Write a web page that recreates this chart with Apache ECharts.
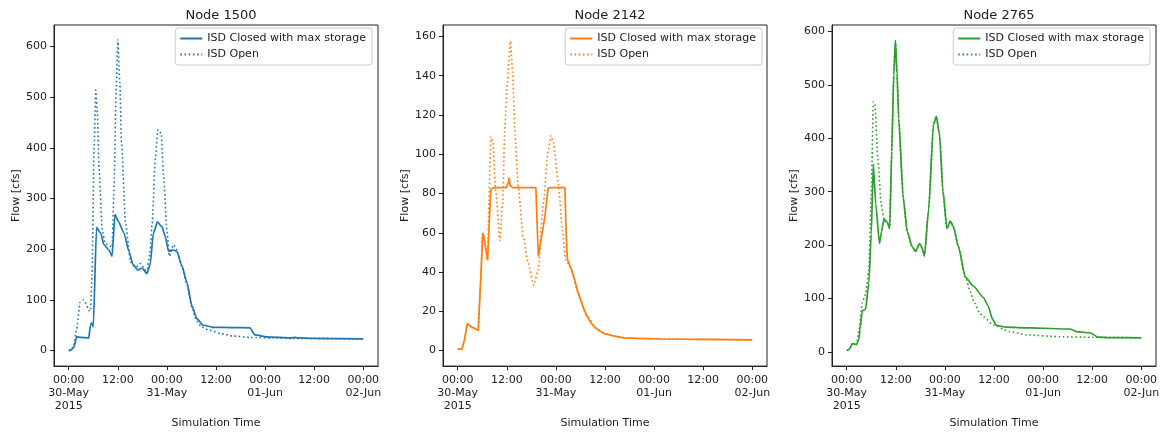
<!DOCTYPE html>
<html>
<head>
<meta charset="utf-8">
<script src="https://cdn.jsdelivr.net/npm/echarts@6.0.0/dist/echarts.min.js"></script>
<style>
  html, body { margin: 0; padding: 0; background: #fff; }
  #chart { width: 1164px; height: 434px; }
</style>
</head>
<body>
<div id="chart"></div>
<script>
// time in hours since 30-May-2015 00:00, flow in cfs
var closed1500 = [[0,0],[0.5,1],[1.2,6],[1.95,27],[3,26],[4.9,25],[5.3,50],[5.6,55],[6.0,47],[6.8,243],[7.8,232],[8.6,209],[9.8,199],[10.6,186],[11.3,269],[12.2,254],[13.5,232],[14.7,196],[15.7,170],[16.9,159],[17.9,163],[19.1,152],[19.9,170],[20.7,232],[21.7,254],[22.8,244],[23.6,225],[24.4,196],[25.2,199],[26.4,196],[27.7,167],[28.9,134],[30.1,89],[31.3,63],[32.9,50],[35.3,46],[40,45.5],[44.3,45],[45.5,31],[48.5,27],[54.5,25],[55.2,26],[56,25],[60,24],[72,23]];
var open1500 = [[0,0],[0.5,1],[1.2,8],[1.95,43],[2.75,95],[3.7,100],[4.3,92],[4.9,79],[5.3,78],[5.7,150],[6.2,400],[6.6,514],[7.0,470],[7.4,361],[8.2,238],[8.9,212],[10.1,206],[10.6,199],[11.1,330],[11.6,520],[12.0,613],[12.5,530],[12.9,407],[13.9,251],[15.1,176],[15.7,168],[16.5,165],[17.5,172],[18.3,165],[19.1,153],[19.8,190],[20.4,251],[21.2,381],[21.8,436],[22.6,429],[23.2,342],[24.0,238],[24.6,186],[25.6,209],[26.4,199],[27.7,165],[28.9,130],[30.1,85],[31.3,58],[32.5,46],[34.5,40],[37,34],[40,29],[44.3,26],[50,25],[55,24],[72,23]];

var closed2142 = [[0,0.7],[1.0,0.7],[1.6,5],[2.35,13.7],[3.4,12],[5.0,10.4],[5.6,35],[6.1,59.7],[6.4,58],[6.7,54],[7.3,46],[7.7,65],[8.1,82],[8.7,83],[11.9,83],[12.2,82],[12.4,86],[12.6,88],[12.8,84],[13.4,83],[19.1,83],[19.4,65],[19.7,48],[20.5,58],[21.3,68],[22.1,82.7],[22.6,83],[26.2,83],[26.5,60],[26.8,46.6],[27.8,41.3],[28.6,36],[29.4,29.6],[30.4,23.5],[31.5,17.9],[32.6,14],[33.9,11.2],[35,9.6],[36,8.6],[38,7.5],[40.7,6.5],[44,6.2],[50,5.9],[60,5.7],[72,5.5]];
var open2142 = [[0,0.7],[1.0,0.7],[1.6,5],[2.35,13.7],[3.4,12],[5.0,10.4],[5.6,35],[6.1,59.7],[6.4,58],[6.7,54],[7.3,46],[7.6,75],[8.1,109],[8.6,106],[9.3,81],[10.3,56],[11.0,75],[11.5,113],[12.0,133],[12.9,157.5],[13.4,142],[14.0,110],[14.8,83],[16.0,58],[17.2,44.6],[18.6,33.3],[19.7,41.3],[20.9,74.7],[22.1,101.5],[22.8,109.5],[23.4,106],[24.6,84.7],[25.6,61.4],[26.4,46],[26.8,45],[27.8,41.3],[29.4,29.6],[31.5,17.9],[33.9,11.2],[36,8.6],[38,7.5],[40.7,6.5],[44,6.2],[50,5.9],[60,5.7],[72,5.5]];

var closed2765 = [[0,2.6],[0.6,5],[1.4,15.5],[2.4,14],[3.0,25],[3.25,43],[3.8,77],[4.6,80],[5.4,129],[6.0,221],[6.5,351],[7.1,277],[8.0,203],[8.5,225],[9.1,249],[9.9,243],[10.5,231],[11.0,375],[11.5,520],[11.9,583],[12.3,520],[12.7,437],[13.8,289],[14.8,225],[16.0,197],[16.8,188],[17.8,203],[18.4,195],[19.0,180],[20.0,265],[21.2,425],[21.9,441],[22.7,406],[23.5,302],[24.5,231],[25.3,245],[26.1,234],[27.3,197],[29.0,140],[31,123],[33.4,102],[34.6,86],[35.6,62],[36.5,50],[39,46.5],[45,45],[54.5,43],[56.2,38],[59.4,36],[61.4,28],[64,27],[72,26.5]];
var open2765 = [[0,2.6],[0.6,5],[1.4,15.5],[2.4,14],[3.0,40],[3.8,92],[4.6,108],[5.4,154],[6.0,295],[6.5,468],[6.9,462],[7.6,363],[8.4,277],[9.2,245],[9.9,243],[10.5,231],[11.0,375],[11.5,520],[11.9,583],[12.3,520],[12.7,437],[13.8,289],[14.8,225],[16.0,197],[16.8,188],[17.8,203],[18.4,195],[19.0,180],[20.0,265],[21.2,425],[21.9,441],[22.7,406],[23.5,302],[24.5,231],[25.3,245],[26.1,234],[27.3,197],[29.0,140],[30.2,113],[31,95],[32.6,72],[33.4,66],[35.9,50],[39.9,38],[44,32],[52,28.5],[60,27.5],[72,26.5]];

var nodeNames = ['1500', '2142', '2765'];
var legendLabels = ['ISD Closed with max storage', 'ISD Open'];
var xTicks = [0, 12, 24, 36, 48, 60, 72];
var xTickLabels = ['00:00\n30-May\n2015', '12:00', '00:00\n31-May', '12:00', '00:00\n01-Jun', '12:00', '00:00\n02-Jun'];
var yTicks1500 = [0, 100, 200, 300, 400, 500, 600];
var yTicks2142 = [0, 20, 40, 60, 80, 100, 120, 140, 160];
var yTicks2765 = [0, 100, 200, 300, 400, 500, 600];

var closedData = [closed1500, closed2142, closed2765];
var openData = [open1500, open2142, open2765];
var yTicks = [yTicks1500, yTicks2142, yTicks2765];
var yRange = [[-30.6, 642.6], [-7.9, 165.8], [-26.4, 612]];
var colors = ['#1f77b4', '#ff7f0e', '#2ca02c'];
// the capped flow at node 2142 has hard corners, the rest is rounded
var closedSmooth = [0.2, 0, 0.2];
var gridLeft = [54, 443, 832];
var legendRight = [792, 402, 14];

var textColor = '#222';
var font = 'DejaVu Sans';

var option = {
  animation: false,
  backgroundColor: '#fff',
  textStyle: { fontFamily: font },
  title: [], grid: [], xAxis: [], yAxis: [], legend: [], series: []
};

nodeNames.forEach(function (node, i) {
  option.title.push({
    text: 'Node ' + node,
    left: gridLeft[i] + 162,
    top: 4,
    textAlign: 'center',
    textStyle: { fontFamily: font, fontSize: 13, fontWeight: 'normal', color: textColor }
  });
  option.grid.push({
    left: gridLeft[i], top: 25, width: 324, height: 346,
    show: true, borderColor: '#222', borderWidth: 1, backgroundColor: '#fff'
  });
  option.xAxis.push({
    type: 'value', gridIndex: i, min: -3.6, max: 75.6,
    name: 'Simulation Time', nameLocation: 'middle', nameGap: 47,
    nameTextStyle: { fontFamily: font, fontSize: 11, color: textColor },
    splitLine: { show: false },
    axisLine: { show: true, onZero: false, lineStyle: { color: '#222' } },
    axisTick: { show: true, inside: false, length: 4, customValues: xTicks, lineStyle: { color: '#222' } },
    axisLabel: {
      customValues: xTicks, margin: 8, fontFamily: font, fontSize: 11, color: textColor, lineHeight: 13,
      formatter: function (v) { return xTickLabels[xTicks.indexOf(Math.round(v))]; }
    }
  });
  option.yAxis.push({
    type: 'value', gridIndex: i, min: yRange[i][0], max: yRange[i][1],
    name: 'Flow [cfs]', nameLocation: 'middle', nameRotate: 90, nameGap: 31,
    nameTextStyle: { fontFamily: font, fontSize: 11, color: textColor },
    splitLine: { show: false },
    axisLine: { show: true, onZero: false, lineStyle: { color: '#222' } },
    axisTick: { show: true, inside: false, length: 4, customValues: yTicks[i], lineStyle: { color: '#222' } },
    axisLabel: { customValues: yTicks[i], margin: 7, fontFamily: font, fontSize: 11, color: textColor }
  });
  option.legend.push({
    right: legendRight[i], top: 28, orient: 'vertical',
    data: ['closed' + node, 'open' + node],
    formatter: function (name) { return name.indexOf('closed') === 0 ? legendLabels[0] : legendLabels[1]; },
    itemWidth: 22, itemHeight: 11, itemGap: 5,
    padding: [5, 6, 5, 4],
    borderColor: '#ccc', borderWidth: 1, borderRadius: 3, backgroundColor: '#fff',
    itemStyle: { opacity: 0 },
    selectedMode: false,
    textStyle: { fontFamily: font, fontSize: 11, color: textColor }
  });
  option.series.push({
    name: 'closed' + node, type: 'line', xAxisIndex: i, yAxisIndex: i,
    data: closedData[i], showSymbol: false, symbol: 'circle', silent: true,
    smooth: closedSmooth[i], smoothMonotone: 'x',
    itemStyle: { color: colors[i] },
    lineStyle: { color: colors[i], width: 1.7, type: 'solid' }
  });
  option.series.push({
    name: 'open' + node, type: 'line', xAxisIndex: i, yAxisIndex: i,
    data: openData[i], showSymbol: false, symbol: 'circle', silent: true,
    smooth: 0.2, smoothMonotone: 'x',
    itemStyle: { color: colors[i] },
    lineStyle: { color: colors[i], width: 1.6, type: [1.6, 2.6] }
  });
});

var chart = echarts.init(document.getElementById('chart'), null, { renderer: 'canvas' });
chart.setOption(option);
</script>
</body>
</html>
